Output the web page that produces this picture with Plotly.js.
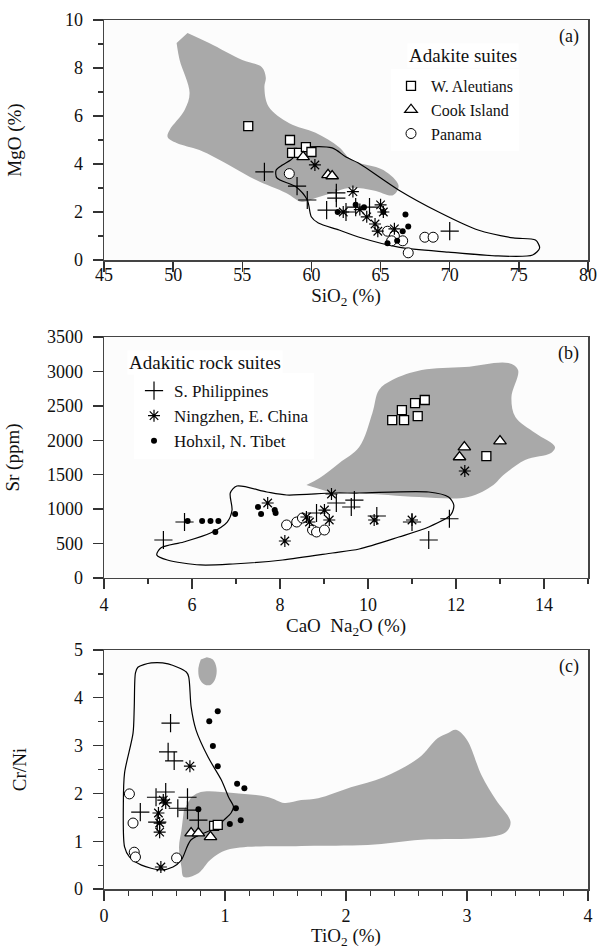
<!DOCTYPE html>
<html><head><meta charset="utf-8">
<script src="https://cdn.plot.ly/plotly-3.0.1.min.js"></script>
<style>body{margin:0;background:#fff}#c{width:599px;height:949px}</style>
</head><body><div id="c"></div>
<script>
// ---------- Panel (a): SiO2 vs MgO ----------
var aFieldX = [51.04,52.6,55.0,56.4,56.7,56.6,56.9,58.4,60.3,62.0,62.9,65.2,66.3,65.9,64.5,62.7,61.5,60.3,59.3,58.17,56.0,54.28,51.9,50.25,49.6,49.75,50.83,51.19,50.47,50.25];
var aFieldY = [9.46,9.04,8.33,8.04,7.6,7.2,6.4,5.7,5.3,4.7,4.17,3.75,3.1,2.7,2.9,3.0,2.79,2.58,2.42,2.79,3.33,3.88,4.58,4.88,5.13,5.42,6.25,6.96,8.33,9.04];
var aLineX = [58.5,59.6,61.5,62.5,63.4,66.3,69.2,72.05,74.6,76.2,76.5,76.0,73.5,69.9,66.3,63.4,62.0,60.5,60.0,59.7,58.9,57.5,57.45,57.9,58.5];
var aLineY = [4.17,4.67,4.67,4.29,4.04,2.92,2.0,1.25,0.92,0.83,0.5,0.21,0.17,0.33,0.54,0.96,1.25,1.54,1.79,2.5,3.04,3.42,3.75,3.96,4.17];
var aAleutX = [55.43,58.45,58.6,59.1,59.6,60.0];
var aAleutY = [5.58,5.0,4.46,4.46,4.7,4.5];
var aCookX = [59.4,61.2,61.5];
var aCookY = [4.3,3.55,3.5];
var aPanX = [58.4,65.5,66.0,66.6,67.0,68.2,68.8,65.8];
var aPanY = [3.6,1.2,1.0,0.8,0.3,0.95,0.95,0.8];
var aPhilX = [56.6,58.96,59.7,61.8,61.8,61.1,62.5,63.2,64.2,70.0];
var aPhilY = [3.67,3.08,2.5,2.8,2.58,2.08,2.0,2.2,2.2,1.2];
var aNingX = [60.25,63.0,62.3,63.5,64.0,64.6,65.0,65.2,66.0,64.8];
var aNingY = [3.96,2.85,2.0,2.1,1.8,1.5,2.3,2.0,1.3,1.2];
var aHohX = [61.9,63.2,63.8,65.2,65.5,66.2,66.6,66.8,67.0];
var aHohY = [2.0,2.3,2.2,2.0,0.7,0.8,1.2,1.9,1.4];

// ---------- Panel (b): CaO+Na2O vs Sr ----------
var bFieldX = [8.6,8.9,9.35,9.8,10.1,10.25,10.55,11.22,12.2,13.19,13.41,13.26,13.35,13.8,14.25,14.16,13.57,13.03,12.85,12.28,11.16,9.8,9.12];
var bFieldY = [1350,1452,1670,1902,2396,2730,2875,3020,3064,3122,3020,2628,2338,2105,1902,1815,1713,1467,1350,1176,1176,1234,1249];
var bLineX = [7.02,7.70,8.15,9.19,9.80,11.38,11.83,11.95,11.88,11.38,10.70,9.80,9.19,8.06,6.93,6.19,5.44,5.20,5.29,5.81,6.42,6.80,6.91,6.87,7.02];
var bLineY = [1336,1249,1205,1234,1234,1249,1176,1060,915,740,595,421,363,261,203,189,261,334,436,523,653,813,987,1234,1336];
var bAleutX = [10.55,10.82,10.77,11.07,11.29,11.13,12.69];
var bAleutY = [2294,2294,2439,2541,2585,2352,1771];
var bCookX = [12.19,12.08,13.0];
var bCookY = [1902,1757,1989];
var bPanX = [8.15,8.38,8.51,8.74,8.83,9.01];
var bPanY = [770,813,871,697,668,697];
var bPhilX = [5.35,5.83,8.83,9.28,9.62,9.69,10.2,11.0,11.85,11.38];
var bPhilY = [552,813,944,1089,1031,1132,900,813,860,552];
var bNingX = [7.72,8.11,9.17,8.6,8.67,9.01,9.12,10.14,11.0,12.2];
var bNingY = [1089,537,1220,886,813,987,842,842,842,1554];
var bHohX = [5.9,6.23,6.42,6.6,6.53,6.98,7.5,7.57,7.88,7.9];
var bHohY = [828,828,828,828,668,929,1031,929,987,944];

// ---------- Panel (c): TiO2 vs Cr/Ni ----------
var cFieldX = [0.72,0.80,1.07,1.36,1.49,1.63,1.77,2.04,2.31,2.60,2.76,2.84,2.91,3.0,3.12,3.24,3.36,3.32,3.12,2.62,2.18,1.63,1.02,0.88,0.78,0.66,0.64,0.62,0.64,0.66];
var cFieldY = [1.92,2.03,2.01,1.92,1.80,1.86,1.90,2.13,2.34,2.74,3.16,3.26,3.33,3.12,2.38,1.86,1.40,1.19,1.07,1.03,0.92,0.90,0.82,0.61,0.33,0.25,0.46,0.88,1.23,1.65];
var cBlobX = [0.85,0.90,0.93,0.92,0.88,0.83,0.79,0.78,0.80];
var cBlobY = [4.85,4.80,4.62,4.40,4.27,4.28,4.40,4.62,4.80];
var cLineX = [0.28,0.39,0.53,0.68,0.70,0.72,0.76,0.86,0.97,1.03,1.07,1.05,0.99,0.94,0.72,0.64,0.57,0.47,0.31,0.21,0.17,0.16,0.17,0.24,0.25,0.26,0.28];
var cLineY = [4.64,4.73,4.71,4.54,4.44,3.81,3.33,2.76,2.28,1.92,1.72,1.59,1.44,1.30,1.03,0.61,0.46,0.40,0.50,0.67,0.88,1.80,2.43,3.26,3.81,4.52,4.64];
var cAleutX = [0.91,0.94];
var cAleutY = [1.32,1.34];
var cCookX = [0.72,0.78,0.88];
var cCookY = [1.17,1.17,1.09];
var cPanX = [0.21,0.24,0.25,0.26,0.60];
var cPanY = [1.99,1.38,0.77,0.67,0.65];
var cPhilX = [0.55,0.53,0.58,0.69,0.43,0.51,0.30,0.61,0.69,0.78,0.44];
var cPhilY = [3.47,2.87,2.68,1.92,1.92,2.03,1.61,1.69,1.65,1.44,1.40];
var cNingX = [0.71,0.49,0.51,0.45,0.46,0.46,0.47];
var cNingY = [2.57,1.86,1.80,1.59,1.38,1.19,0.46];
var cHohX = [0.94,0.87,0.90,0.94,1.10,1.16,0.78,1.09,1.13,1.04];
var cHohY = [3.72,3.51,2.99,2.57,2.20,2.11,1.67,1.69,1.44,1.36];

var seriesNames = ['W. Aleutians','Cook Island','Panama','S. Philippines','Ningzhen, E. China','Hohxil, N. Tibet'];
var legendTitles = ['Adakite suites','Adakitic rock suites'];

var GRAY = '#a9a9a9';
var FONT = "'Liberation Serif', 'Times New Roman', Times, serif";
var styles = [
  {symbol:'square', size:9, color:'#fff', line:{color:'#000', width:1.3}},
  {symbol:'triangle-up', size:11, color:'#fff', line:{color:'#000', width:1.3}},
  {symbol:'circle', size:10, color:'#fff', line:{color:'#000', width:1}},
  {symbol:'cross-thin-open', size:13, color:'#000', line:{color:'#000', width:1.2}},
  {symbol:'asterisk-open', size:10, color:'#000', line:{color:'#000', width:1.2}},
  {symbol:'circle', size:6, color:'#000', line:{color:'#000', width:0}}
];
var legendOf = ['legend','legend','legend','legend2','legend2','legend2'];

var traces = [];
function field(x,y,xa,ya){traces.push({x:x,y:y,xaxis:xa,yaxis:ya,mode:'lines',fill:'toself',fillcolor:GRAY,line:{width:0,shape:'spline',smoothing:1},hoverinfo:'skip',showlegend:false});}
function outline(x,y,xa,ya){traces.push({x:x,y:y,xaxis:xa,yaxis:ya,mode:'lines',line:{color:'#000',width:1.2,shape:'spline',smoothing:0.8},hoverinfo:'skip',showlegend:false});}
function pts(sets,xa,ya,show){
  for(var i=0;i<sets.length;i++){
    traces.push({x:sets[i][0],y:sets[i][1],xaxis:xa,yaxis:ya,mode:'markers',name:seriesNames[i],
      legend:legendOf[i],legendgroup:'g'+i,showlegend:show,marker:styles[i]});
  }
}
field(aFieldX,aFieldY,'x','y');
outline(aLineX,aLineY,'x','y');
field(bFieldX,bFieldY,'x2','y2');
outline(bLineX,bLineY,'x2','y2');
field(cFieldX,cFieldY,'x3','y3');
field(cBlobX,cBlobY,'x3','y3');
outline(cLineX,cLineY,'x3','y3');
pts([[aAleutX,aAleutY],[aCookX,aCookY],[aPanX,aPanY],[aPhilX,aPhilY],[aNingX,aNingY],[aHohX,aHohY]],'x','y',true);
pts([[bAleutX,bAleutY],[bCookX,bCookY],[bPanX,bPanY],[bPhilX,bPhilY],[bNingX,bNingY],[bHohX,bHohY]],'x2','y2',false);
pts([[cAleutX,cAleutY],[cCookX,cCookY],[cPanX,cPanY],[cPhilX,cPhilY],[cNingX,cNingY],[cHohX,cHohY]],'x3','y3',false);

var tickF = {family:FONT,size:18,color:'#111'};
var titleF = {family:FONT,size:19,color:'#111'};
var minorT = function(d){return {dtick:d,ticklen:5,tickcolor:'#333',ticks:'outside',tickwidth:1.2};};
function ax(extra){
  var base = {showline:true,mirror:true,linecolor:'#444',linewidth:1.5,ticks:'outside',ticklen:10,tickwidth:1.3,tickcolor:'#333',
    showgrid:false,zeroline:false,tickfont:tickF,fixedrange:true};
  for(var k in extra) base[k]=extra[k];
  return base;
}
var layout = {
  width:599,height:949,margin:{l:104,r:11,t:20,b:60},
  paper_bgcolor:'#fff',plot_bgcolor:'#fcfcfc',
  font:{family:FONT,color:'#111'},
  xaxis:ax({domain:[0,1],anchor:'y',range:[45,80],dtick:5,ticklabelstandoff:-12,title:{text:'SiO<sub>2</sub> (%)',font:titleF,standoff:0}}),
  yaxis:ax({domain:[0.7238,1],anchor:'x',range:[0,10],dtick:2,ticklabelstandoff:6,minor:minorT(1),title:{text:'MgO (%)',font:titleF,standoff:38}}),
  xaxis2:ax({domain:[0,1],anchor:'y2',range:[4,15],tickvals:[4,6,8,10,12,14],minor:minorT(1),title:{text:'CaO  Na<sub>2</sub>O (%)',font:titleF,standoff:0}}),
  yaxis2:ax({domain:[0.3579,0.6352],anchor:'x2',range:[0,3500],dtick:500,ticklabelstandoff:6,title:{text:'Sr (ppm)',font:titleF,standoff:22}}),
  xaxis3:ax({domain:[0,1],anchor:'y3',range:[0,4],dtick:1,minor:minorT(0.2),title:{text:'TiO<sub>2</sub> (%)',font:titleF,standoff:2}}),
  yaxis3:ax({domain:[0,0.2750],anchor:'x3',range:[0,5],dtick:1,ticklabelstandoff:6,minor:minorT(0.5),title:{text:'Cr/Ni',font:titleF,standoff:42}}),
  legend:{x:0.593,y:0.9436,xref:'paper',yref:'paper',xanchor:'left',yanchor:'top',bgcolor:'#fff',borderwidth:0,
    font:{family:FONT,size:16,color:'#111'},tracegroupgap:0,itemwidth:30},
  legend2:{x:0.062,y:0.5938,xref:'paper',yref:'paper',xanchor:'left',yanchor:'top',bgcolor:'#fff',borderwidth:0,
    font:{family:FONT,size:17,color:'#111'},tracegroupgap:0,itemwidth:30},
  annotations:[
    {text:legendTitles[0],xref:'paper',yref:'paper',x:0.626,y:0.9597,xanchor:'left',yanchor:'middle',showarrow:false,bgcolor:'#fff',font:{family:FONT,size:19,color:'#111'}},
    {text:legendTitles[1],xref:'paper',yref:'paper',x:0.0475,y:0.6053,xanchor:'left',yanchor:'middle',showarrow:false,bgcolor:'#fff',font:{family:FONT,size:19,color:'#111'}},
    {text:'(a)',xref:'x domain',yref:'y domain',x:0.985,y:0.985,xanchor:'right',yanchor:'top',showarrow:false,font:{family:FONT,size:18,color:'#111'}},
    {text:'(b)',xref:'x2 domain',yref:'y2 domain',x:0.985,y:0.985,xanchor:'right',yanchor:'top',showarrow:false,font:{family:FONT,size:18,color:'#111'}},
    {text:'(c)',xref:'x3 domain',yref:'y3 domain',x:0.985,y:0.985,xanchor:'right',yanchor:'top',showarrow:false,font:{family:FONT,size:18,color:'#111'}}
  ],
  showlegend:true
};
Plotly.newPlot('c',traces,layout,{staticPlot:true,displayModeBar:false});
</script></body></html>
